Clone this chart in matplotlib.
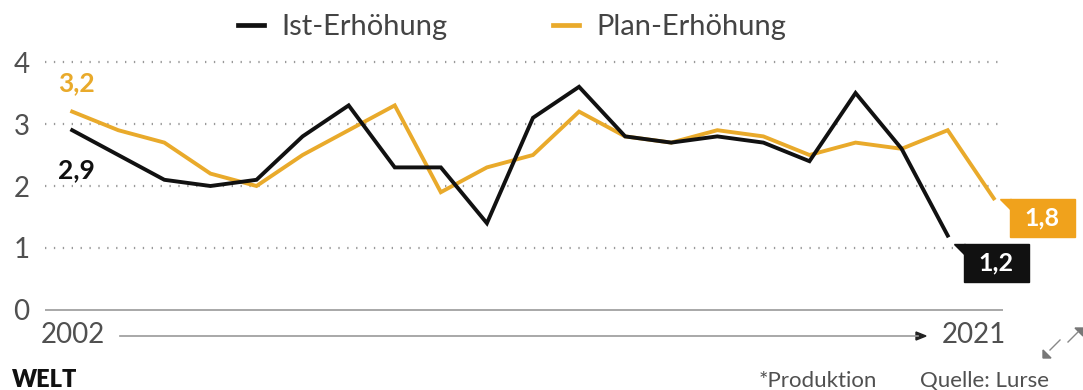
import matplotlib
matplotlib.use("Agg")
import matplotlib.pyplot as plt
import matplotlib.transforms as mtransforms
from matplotlib.patches import Polygon, Rectangle
from matplotlib.lines import Line2D

plt.rcParams['font.family'] = ['Lato', 'DejaVu Sans']

# data
years_ist = list(range(2002, 2022))
ist = [2.9, 2.5, 2.1, 2.0, 2.1, 2.8, 3.3, 2.3, 2.3, 1.4,
       3.1, 3.6, 2.8, 2.7, 2.8, 2.7, 2.4, 3.5, 2.6, 1.2]
years_plan = list(range(2002, 2023))
plan = [3.2, 2.9, 2.7, 2.2, 2.0, 2.5, 2.9, 3.3, 1.9, 2.3,
        2.5, 3.2, 2.8, 2.7, 2.9, 2.8, 2.5, 2.7, 2.6, 2.9, 1.8]
yticks = [0, 1, 2, 3, 4]

BLACK = '#111111'
ORANGE = '#e9aa2b'
BOX_ORANGE = '#f0a21c'
GREY = '#505050'

W, H = 1083, 390
fig = plt.figure(figsize=(W / 100, H / 100), dpi=100)


def fy(px):
    return 1 - px / H


# axes placement in pixels
ax = fig.add_axes([45 / W, fy(322.4), 958 / W, (322.4 - 37.2) / H])
ax.set_xlim(2001.41, 2022.2)
ax.set_ylim(-0.2, 4.4)

for v in yticks[1:]:
    ax.axhline(v, color='#999999', lw=1.6, ls=(0, (0.6, 3.4)), zorder=1)
ax.axhline(0, color='#999999', lw=1.2, zorder=1)

l_ist, = ax.plot(years_ist, ist, color=BLACK, lw=2.8, zorder=3,
                 solid_joinstyle='miter', label='Ist-Erhöhung')
l_plan, = ax.plot(years_plan, plan, color=ORANGE, lw=2.8, zorder=2,
                  solid_joinstyle='miter', label='Plan-Erhöhung')

ax.set_yticks(yticks)
ax.set_yticklabels([str(v) for v in yticks], fontsize=20, color=GREY)
ax.tick_params(axis='y', length=0, pad=11)
ax.set_xticks([])
for s in ax.spines.values():
    s.set_visible(False)

# first value labels
ax.annotate(f"{plan[0]:.1f}".replace('.', ','), (years_plan[0], plan[0]),
            xytext=(-10, 12), textcoords='offset points', fontsize=19,
            fontweight='bold', color=ORANGE, ha='left', va='bottom')
ax.annotate(f"{ist[0]:.1f}".replace('.', ','), (years_ist[0], ist[0]),
            xytext=(-10, -20), textcoords='offset points', fontsize=19,
            fontweight='bold', color=BLACK, ha='left', va='top')


# last value boxes with a small tail
def end_box(x, y, color, dy):
    tr = fig.dpi_scale_trans + mtransforms.ScaledTranslation(x, y, ax.transData)
    ax.add_patch(Polygon([(0.06, dy), (0.17, dy), (0.17, dy - 0.11)],
                         closed=True, transform=tr, color=color,
                         clip_on=False, zorder=5))
    ax.add_patch(Rectangle((0.16, dy - 0.38), 0.65, 0.38, transform=tr,
                           color=color, clip_on=False, zorder=5))
    ax.text(0.485, dy - 0.19, f"{y:.1f}".replace('.', ','), transform=tr,
            ha='center', va='center', color='white', fontsize=18,
            fontweight='bold', zorder=6)


end_box(years_plan[-1], plan[-1], BOX_ORANGE, -0.01)
end_box(years_ist[-1], ist[-1], BLACK, -0.08)

# legend
leg = fig.legend(handles=[l_ist, l_plan], loc='center',
                 bbox_to_anchor=(0.473, fy(27)), ncol=2, frameon=False,
                 fontsize=21, handlelength=0.9, handletextpad=0.6,
                 columnspacing=3.6, labelcolor='#444444')
for h in leg.legend_handles:
    h.set_linewidth(3.4)

# time arrow below the chart
fig.text(73 / W, fy(335), str(years_ist[0]), ha='center', va='center',
         fontsize=20, color=GREY)
fig.text(974 / W, fy(335), str(years_ist[-1]), ha='center', va='center',
         fontsize=20, color=GREY)
fig.add_artist(Line2D([120 / W, 918 / W], [fy(336), fy(336)],
                      color='#999999', lw=1.2))
fig.add_artist(Polygon([(916 / W, fy(332)), (926 / W, fy(336)),
                        (916 / W, fy(340))], closed=True, color='#222222'))

# footer
fig.text(12 / W, fy(380), 'WELT', ha='left', va='center', fontsize=17,
         fontweight='heavy', color='#111111')
fig.text(818 / W, fy(381), '*Produktion', ha='center', va='center',
         fontsize=16, color=GREY)
fig.text(920 / W, fy(381), 'Quelle: Lurse', ha='left', va='center',
         fontsize=16, color=GREY)
fig.add_artist(Line2D([1050 / W, 1060 / W], [fy(350), fy(340)],
                      color='#888888', lw=1.0))
fig.add_artist(Polygon([(1043 / W, fy(358)), (1043 / W, fy(350)),
                        (1051 / W, fy(358))], closed=True, color='#777777'))
fig.add_artist(Line2D([1068 / W, 1078 / W], [fy(342), fy(332)],
                      color='#888888', lw=1.0))
fig.add_artist(Polygon([(1083 / W, fy(328)), (1083 / W, fy(336)),
                        (1075 / W, fy(328))], closed=True, color='#777777'))

fig.savefig('out.png', dpi=100)
